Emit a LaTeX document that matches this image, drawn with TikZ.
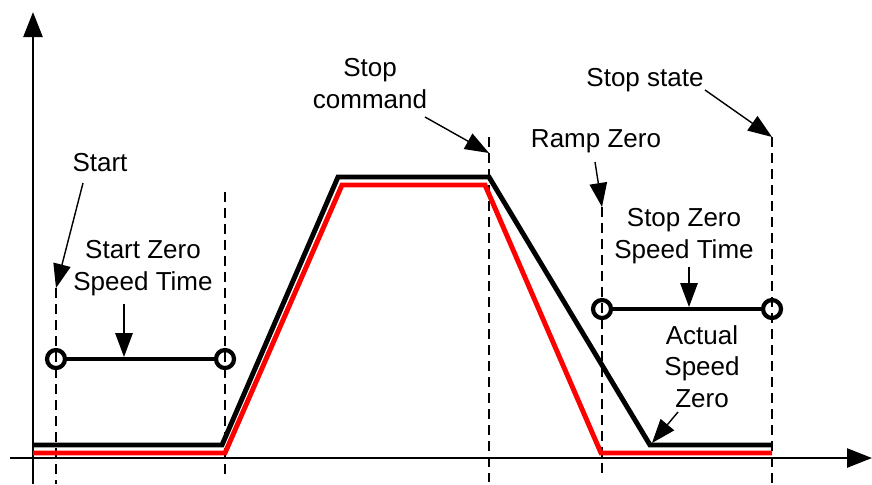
\documentclass[tikz,border=0pt]{standalone}
\usepackage{fontspec}
\setmainfont{Liberation Sans}
\definecolor{spred}{RGB}{255,0,0}
\usetikzlibrary{arrows.meta,positioning}
\tikzset{
  axisline/.style={line width=1.4pt, -{Triangle[length=0.5cm, width=0.38cm]}},
  guide/.style={line width=0.75pt, dash pattern=on 0.2cm off 0.12cm},
  profile/.style={line width=2.8pt, draw=#1, line join=miter},
  marker/.style={draw, circle, line width=2.4pt, minimum size=0.36cm, inner sep=0pt},
  bar/.style={line width=2.2pt},
  callarrow/.style={line width=0.8pt, -{Triangle[length=0.48cm, width=0.35cm]}},
  lbl/.style={align=center, inner sep=0pt, anchor=base},
}

\begin{document}
\begin{tikzpicture}[x=0.2mm, y=-0.2mm, font=\fontsize{14.8}{17.8}\selectfont]
\useasboundingbox (0,0) rectangle (872,484);

% --- Axes ---
\coordinate (xstart) at (10,458);
\coordinate (xend) at (872,458);
\coordinate (ystart) at (33,484);
\coordinate (yend) at (33,12);
\draw[axisline] (xstart) -- (xend);
\draw[axisline] (ystart) -- (yend);

% --- Guide lines ---
\foreach \gx/\gt/\gb [count=\i] in {56/288/484, 225/192/478, 489/137/482, 602/207/473, 772/137/484} {
  \coordinate (g\i-top) at (\gx,\gt);
  \coordinate (g\i-bot) at (\gx,\gb);
  \draw[guide] (g\i-top) -- (g\i-bot);
}

% --- Speed profiles ---
\draw[profile=black] (33,445) -- (222,445) -- (338,177) -- (489,177) -- (650,445) -- (772,445);
\draw[profile=spred] (33,453) -- (225,453) -- (342,185) -- (485,185) -- (601,453) -- (772,453);

% --- Zero speed time bars ---
\node[marker] (s1) at (56,359) {};
\node[marker] (s2) at (225,359) {};
\draw[bar] (s1) -- (s2);
\node[marker] (p1) at (602,309) {};
\node[marker] (p2) at (772,309) {};
\draw[bar] (p1) -- (p2);

% --- Labels ---
\node[lbl] (start) at (100,171) {Start};
\node[lbl] (startzero) at (143,290) {Start Zero\\Speed Time};
\node[lbl] (stopcmd) at (370,108) {Stop\\command};
\node[lbl] (stopstate) at (645,86) {Stop state};
\node[lbl] (rampzero) at (596,147) {Ramp Zero};
\node[lbl] (stopzero) at (684,258) {Stop Zero\\Speed Time};
\node[lbl] (actual) at (702,407) {Actual\\Speed\\Zero};

% --- Pointers ---
\coordinate (start-tail) at (83,183);
\coordinate (startzero-tail) at (124,304);
\coordinate (startzero-tip) at (124,357);
\coordinate (stopcmd-tail) at (425,117);
\coordinate (stopcmd-tip) at (489,153);
\coordinate (stopstate-tail) at (705,90);
\coordinate (rampzero-tail) at (595,162);
\coordinate (stopzero-tail) at (689,267);
\coordinate (stopzero-tip) at (689,307);
\coordinate (actual-tail) at (678,412);
\coordinate (actual-tip) at (652,443);

\draw[callarrow] (start-tail) -- (g1-top);
\draw[callarrow] (startzero-tail) -- (startzero-tip);
\draw[callarrow] (stopcmd-tail) -- (stopcmd-tip);
\draw[callarrow] (stopstate-tail) -- (g5-top);
\draw[callarrow] (rampzero-tail) -- (g4-top);
\draw[callarrow] (stopzero-tail) -- (stopzero-tip);
\draw[callarrow] (actual-tail) -- (actual-tip);

\end{tikzpicture}
\end{document}
